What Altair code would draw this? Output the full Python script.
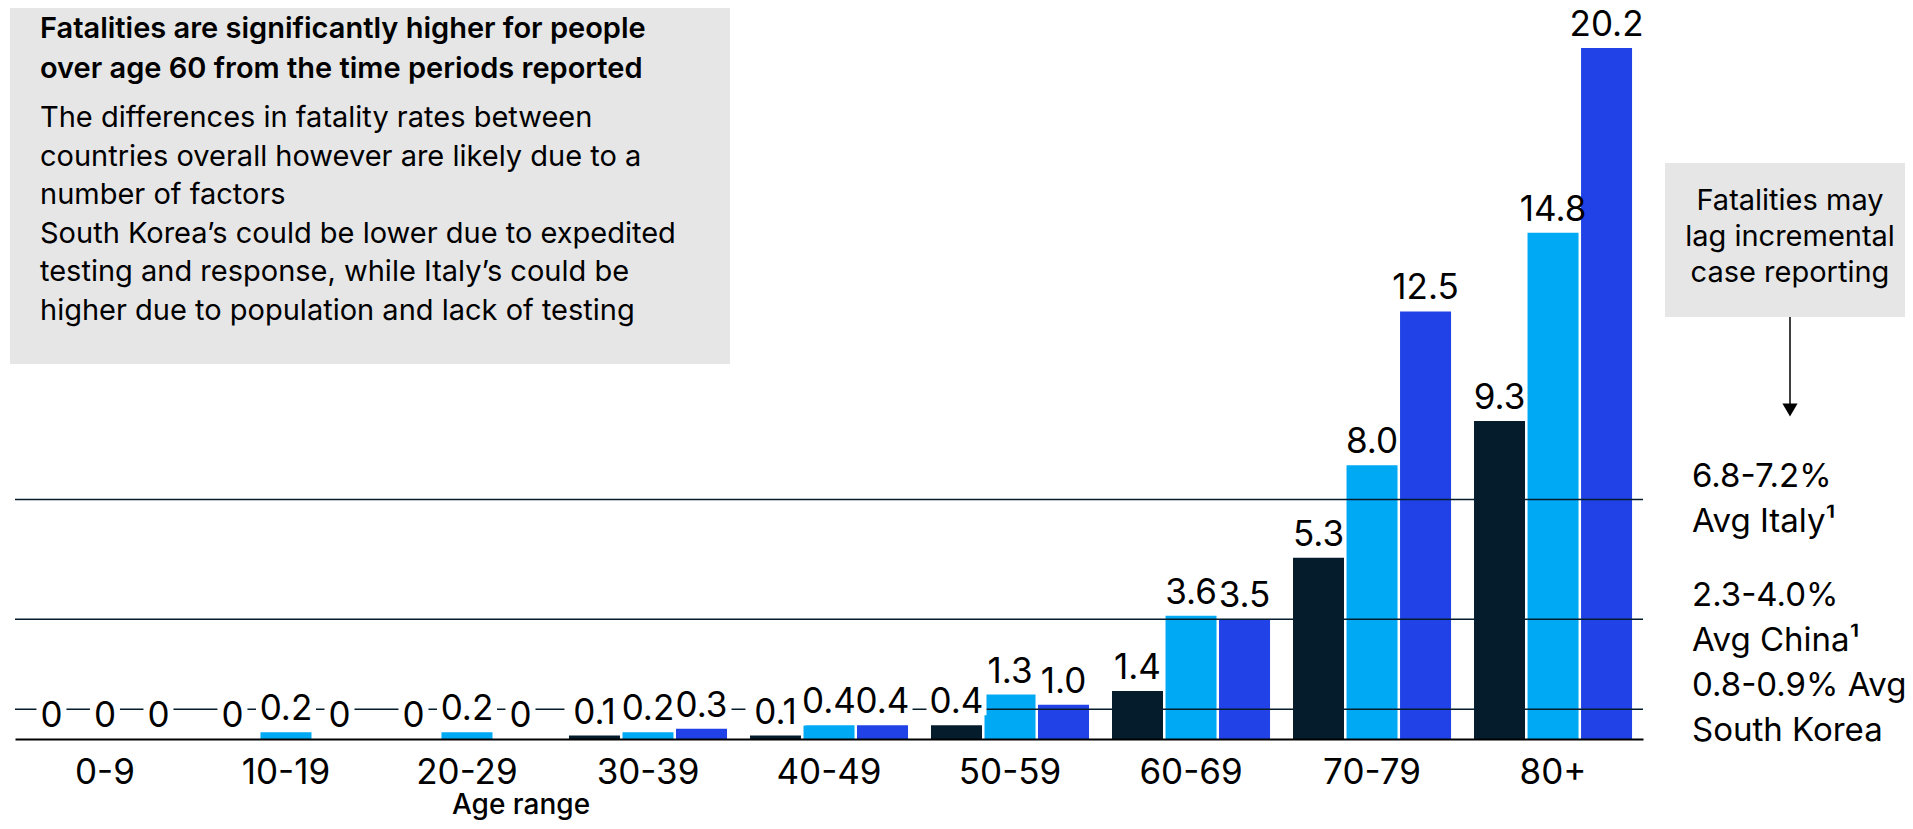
import altair as alt
import pandas as pd

# ---------------- data ----------------
ages = ["0-9", "10-19", "20-29", "30-39", "40-49", "50-59", "60-69", "70-79", "80+"]
series = ["South Korea", "China", "Italy"]
south_korea = [0, 0, 0, 0.1, 0.1, 0.4, 1.4, 5.3, 9.3]
china = [0, 0.2, 0.2, 0.2, 0.4, 1.3, 3.6, 8.0, 14.8]
italy = [0, 0, 0, 0.3, 0.4, 1.0, 3.5, 12.5, 20.2]
colors = ["#051c2c", "#00a9f4", "#2042e6"]

ref_values = [7.0, 3.5, 0.87]
ref_labels = [["6.8-7.2%", "Avg Italy¹"],
              ["2.3-4.0%", "Avg China¹"],
              ["0.8-0.9% Avg", "South Korea"]]

box_title = ["Fatalities are significantly higher for people",
             "over age 60 from the time periods reported"]
box_body = ["The differences in fatality rates between",
            "countries overall however are likely due to a",
            "number of factors",
            "South Korea’s could be lower due to expedited",
            "testing and response, while Italy’s could be",
            "higher due to population and lack of testing"]
note_lines = ["Fatalities may", "lag incremental", "case reporting"]
x_title = "Age range"

FONT = "Inter"

rows = []
for s, vals in zip(series, [south_korea, china, italy]):
    for a, v in zip(ages, vals):
        rows.append({"age": a, "series": s, "value": v,
                     "label": "0" if v == 0 else f"{v:.1f}"})
df = pd.DataFrame(rows)
ref_df = pd.DataFrame({"v": ref_values, "lines": ref_labels})
one = pd.DataFrame({"k": [0]})

# ---------------- scales ----------------
x_scale = alt.Scale(domain=ages, range=[7, 1635], paddingInner=0.113, paddingOuter=0.0535)
xo_scale = alt.Scale(domain=series, paddingInner=0.047, paddingOuter=0.0235)
y_scale = alt.Scale(domain=[0, 21.37], range=[731, 0], nice=False, zero=True)

X = alt.X("age:N", scale=x_scale, sort=ages,
          axis=alt.Axis(orient="bottom", offset=-82, title=None, ticks=False, tickSize=0,
                        domain=True, domainColor="#000000", domainWidth=2,
                        labelFontSize=35, labelFont=FONT, labelColor="#000000",
                        labelPadding=16, labelAngle=0, grid=False, zindex=1))
XO = alt.XOffset("series:N", scale=xo_scale, sort=series)
Y = alt.Y("value:Q", scale=y_scale, axis=None)

base = alt.Chart(df)

bars = base.mark_bar().encode(
    x=X, xOffset=XO, y=Y,
    color=alt.Color("series:N", scale=alt.Scale(domain=series, range=colors), legend=None),
)

rules = alt.Chart(ref_df).mark_rule(color="#051c2c", strokeWidth=1.6).encode(
    y=alt.Y("v:Q", scale=y_scale, axis=None),
    x=alt.value(7), x2=alt.value(1635),
)

bg_short = base.transform_filter("datum.value == 0").mark_point(
    shape="M-1,-1H1V1H-1Z", size=900, filled=True, fill="white", opacity=1,
    strokeWidth=0, yOffset=-25,
).encode(x=X, xOffset=XO, y=Y)

bg_long = base.transform_filter("datum.value > 0 && datum.value < 1").mark_point(
    shape="M-1,-0.5H1V0.5H-1Z", size=3600, filled=True, fill="white", opacity=1,
    strokeWidth=0, yOffset=-25,
).encode(x=X, xOffset=XO, y=Y)

labels = base.mark_text(dy=-12, baseline="alphabetic", fontSize=35, font=FONT,
                        color="#000000").encode(
    x=X, xOffset=XO, y=Y, text="label:N")

ref_text = alt.Chart(ref_df).mark_text(align="left", baseline="alphabetic", dy=-13,
                                       fontSize=33, font=FONT, lineHeight=45,
                                       color="#000000").encode(
    x=alt.value(1684), y=alt.Y("v:Q", scale=y_scale, axis=None), text="lines")

box = alt.Chart(one).mark_rect(color="#e6e6e6").encode(
    x=alt.value(2), x2=alt.value(722), y=alt.value(0), y2=alt.value(356))

box_t = alt.Chart(one).mark_text(text=box_title, align="left", baseline="alphabetic",
                                 fontSize=29, fontWeight=600, font=FONT,
                                 lineHeight=40, color="#000000").encode(
    x=alt.value(32), y=alt.value(30))

box_b = alt.Chart(one).mark_text(text=box_body, align="left", baseline="alphabetic",
                                 fontSize=29, font=FONT, lineHeight=38.6,
                                 color="#000000").encode(
    x=alt.value(32), y=alt.value(119))

note_box = alt.Chart(one).mark_rect(color="#e6e6e6").encode(
    x=alt.value(1657), x2=alt.value(1897), y=alt.value(155), y2=alt.value(309))

note_t = alt.Chart(one).mark_text(text=note_lines, align="center", baseline="alphabetic",
                                  fontSize=29, font=FONT, lineHeight=36,
                                  color="#000000").encode(
    x=alt.value(1782), y=alt.value(202))

arrow_line = alt.Chart(one).mark_rule(color="#000000", strokeWidth=1.5).encode(
    x=alt.value(1782), y=alt.value(309), y2=alt.value(400))

arrow_head = alt.Chart(one).mark_point(shape="triangle-down", size=230, filled=True,
                                       fill="#000000", opacity=1, strokeWidth=0).encode(
    x=alt.value(1782), y=alt.value(402))

xtitle = alt.Chart(one).mark_text(text=x_title, align="center", baseline="alphabetic",
                                  fontSize=28, fontWeight=500, font=FONT,
                                  color="#000000").encode(
    x=alt.value(513), y=alt.value(806))

chart = alt.layer(
    box, box_t, box_b, note_box, note_t, arrow_line, arrow_head,
    bars, rules, bg_short, bg_long, labels, ref_text, xtitle,
).properties(
    width=1897, height=813, padding=0,
    autosize=alt.AutoSizeParams(type="none"),
    background="white",
).configure_view(stroke=None)

chart.save("out.html", embed_options={"renderer": "svg", "actions": False})
